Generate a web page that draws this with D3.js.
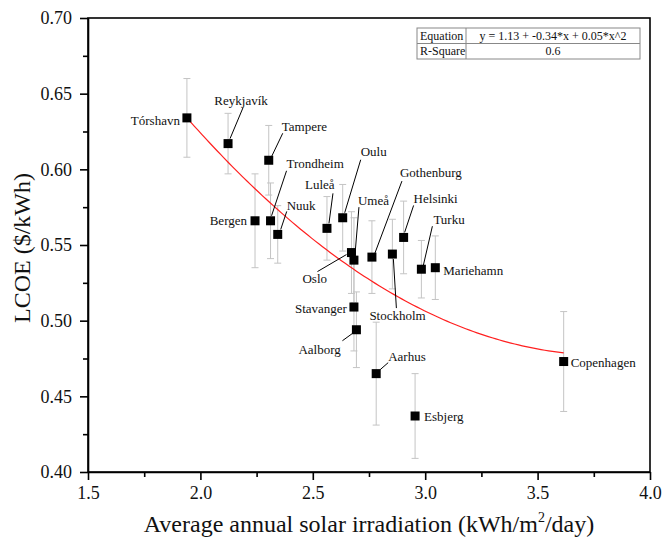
<!DOCTYPE html>
<html>
<head>
<meta charset="utf-8">
<script src="https://cdn.jsdelivr.net/npm/d3@7"></script>
<style>
  html, body { margin: 0; padding: 0; background: #fff; }
  svg, svg text { font-family: "Liberation Serif", "Times New Roman", serif !important; }
</style>
</head>
<body>
<svg id="chart" width="666" height="547"></svg>
<script>
// Cities and their average annual solar irradiation (kWh/m²/day)
const cities = ["Tórshavn", "Reykjavík", "Tampere", "Trondheim", "Bergen", "Nuuk",
  "Luleå", "Oulu", "Oslo", "Umeå", "Stavanger", "Aalborg", "Gothenburg", "Stockholm",
  "Helsinki", "Turku", "Mariehamn", "Aarhus", "Esbjerg", "Copenhagen"];
const irradiation = [1.940, 2.123, 2.304, 2.312, 2.243, 2.344,
  2.563, 2.633, 2.672, 2.683, 2.683, 2.694, 2.763, 2.854,
  2.904, 2.983, 3.045, 2.782, 2.955, 3.616];
// Levelized cost of energy ($/kWh) and its uncertainty (±)
const lcoe = [0.634, 0.617, 0.606, 0.566, 0.566, 0.557,
  0.561, 0.568, 0.545, 0.540, 0.509, 0.494, 0.542, 0.544,
  0.555, 0.534, 0.535, 0.465, 0.437, 0.473];
const lcoeErr = [0.026, 0.020, 0.023, 0.025, 0.031, 0.019,
  0.021, 0.022, 0.027, 0.028, 0.029, 0.025, 0.024, 0.023,
  0.024, 0.019, 0.021, 0.034, 0.028, 0.033];

// Quadratic fit y = a + b*x + c*x^2 and its goodness of fit
const fitCoefficients = [1.1309, -0.3438, 0.0452];
const rSquare = 0.6;

// Axis ticks
const xTicks = [1.5, 2.0, 2.5, 3.0, 3.5, 4.0];
const yTicks = [0.40, 0.45, 0.50, 0.55, 0.60, 0.65, 0.70];

// Label placement per city: [dx, dy, anchor, leader start dx, dy, leader end dx, dy]
const labelLayout = {
  "Tórshavn":   [-7, 3, "end"],
  "Reykjavík":  [13, -43, "middle", 15, -36, 2, -5],
  "Tampere":    [13, -34, "start", 14, -27, 3, -4],
  "Trondheim":  [16, -57, "start", 16, -50, 1, -5],
  "Bergen":     [-8, 0, "end"],
  "Nuuk":       [9, -29, "start", 9, -23, 3, -5],
  "Luleå":      [-22, -44, "start", 6, -35, 2, -5],
  "Oulu":       [18, -66, "start", 18, -58, 2, -5],
  "Oslo":       [-49, 26, "start", -34, 19, -5, 2],
  "Umeå":       [4, -60, "start", 5, -53, 1, -5],
  "Stavanger":  [-7, 1, "end"],
  "Aalborg":    [-58, 20, "start", -14, 11, -3, 3],
  "Gothenburg": [28, -85, "start", 30, -76, 3, -4],
  "Stockholm":  [-23, 61, "start", 1, 5, 4, 54],
  "Helsinki":   [10, -39, "start", 10, -32, 1, -5],
  "Turku":      [12, -50, "start", 11, -43, 2, -4],
  "Mariehamn":  [8, 3, "start"],
  "Aarhus":     [12, -17, "start", 12, -11, 4, -4],
  "Esbjerg":    [9, 0, "start"],
  "Copenhagen": [7, 1, "start"]
};

const serif = "'Liberation Serif', 'Times New Roman', serif";
const svg = d3.select("#chart").style("font-family", serif);
const plot = { left: 88, right: 650, top: 18, bottom: 472 };

const x = d3.scaleLinear().domain([1.5, 4.0]).range([plot.left, plot.right]);
const y = d3.scaleLinear().domain([0.40, 0.70]).range([plot.bottom, plot.top]);

const points = cities.map((name, i) => ({ name, x: irradiation[i], y: lcoe[i], e: lcoeErr[i] }));

// Frame around the plotting area
svg.append("rect")
  .attr("x", plot.left).attr("y", plot.top)
  .attr("width", plot.right - plot.left).attr("height", plot.bottom - plot.top)
  .attr("fill", "none").attr("stroke", "#000").attr("stroke-width", 1.6);

// Axes with major and minor ticks pointing outward
const xMinor = d3.range(1.75, 4.0, 0.5);
const yMinor = d3.range(0.425, 0.70, 0.05);

const xAxis = svg.append("g").attr("transform", `translate(0,${plot.bottom})`)
  .call(d3.axisBottom(x).tickValues(xTicks).tickFormat(d3.format(".1f")).tickSize(8).tickPadding(6).tickSizeOuter(0));
svg.append("g").attr("transform", `translate(0,${plot.bottom})`)
  .call(d3.axisBottom(x).tickValues(xMinor).tickFormat("").tickSize(5).tickSizeOuter(0))
  .select(".domain").remove();

const yAxis = svg.append("g").attr("transform", `translate(${plot.left},0)`)
  .call(d3.axisLeft(y).tickValues(yTicks).tickFormat(d3.format(".2f")).tickSize(8).tickSizeOuter(0));
svg.append("g").attr("transform", `translate(${plot.left},0)`)
  .call(d3.axisLeft(y).tickValues(yMinor).tickFormat("").tickSize(5).tickSizeOuter(0))
  .select(".domain").remove();

svg.selectAll("g").attr("font-family", serif);
svg.selectAll(".tick line").attr("stroke", "#000").attr("stroke-width", 1.6);
svg.selectAll(".domain").attr("stroke", "#000").attr("stroke-width", 1.6);
xAxis.selectAll(".tick text").attr("font-size", 18).attr("fill", "#111")
  .style("font-family", serif);
yAxis.selectAll(".tick text").attr("font-size", 18).attr("fill", "#111")
  .style("font-family", serif).attr("x", -16);

// Axis titles
const xTitle = svg.append("text")
  .attr("x", (plot.left + plot.right) / 2).attr("y", 532).attr("text-anchor", "middle")
  .attr("font-size", 24).attr("fill", "#111").style("font-family", serif);
xTitle.append("tspan").text("Average annual solar irradiation (kWh/m");
xTitle.append("tspan").attr("font-size", 14).attr("dy", -10).text("2");
xTitle.append("tspan").attr("dy", 10).text("/day)");

svg.append("text")
  .attr("transform", `translate(30,${(plot.top + plot.bottom) / 2 + 3}) rotate(-90)`)
  .attr("text-anchor", "middle").attr("font-size", 24).attr("fill", "#111")
  .style("font-family", serif)
  .text("LCOE ($/kWh)");

// Error bars
const capHalf = 3.5;
const eb = svg.append("g").attr("stroke", "#c4c4c4").attr("stroke-width", 1);
points.forEach(p => {
  const cx = x(p.x), y0 = y(p.y - p.e), y1 = y(p.y + p.e);
  eb.append("line").attr("x1", cx).attr("x2", cx).attr("y1", y0).attr("y2", y1);
  eb.append("line").attr("x1", cx - capHalf).attr("x2", cx + capHalf).attr("y1", y0).attr("y2", y0);
  eb.append("line").attr("x1", cx - capHalf).attr("x2", cx + capHalf).attr("y1", y1).attr("y2", y1);
});

// Fitted quadratic curve across the data range
const [xMin, xMax] = d3.extent(irradiation);
const [a, b, c] = fitCoefficients;
const curveX = d3.range(0, 101).map(k => xMin + (xMax - xMin) * k / 100);
svg.append("path")
  .datum(curveX)
  .attr("fill", "none").attr("stroke", "#ff2020").attr("stroke-width", 1.2)
  .attr("d", d3.line().x(v => x(v)).y(v => y(a + b * v + c * v * v)));

// Data markers
const size = 9;
svg.append("g").selectAll("rect").data(points).join("rect")
  .attr("x", p => x(p.x) - size / 2).attr("y", p => y(p.y) - size / 2)
  .attr("width", size).attr("height", size).attr("fill", "#000");

// City labels with leader lines
const lbl = svg.append("g");
points.forEach(p => {
  const L = labelLayout[p.name];
  const cx = x(p.x), cy = y(p.y);
  if (L.length > 3) {
    lbl.append("line")
      .attr("x1", cx + L[3]).attr("y1", cy + L[4])
      .attr("x2", cx + L[5]).attr("y2", cy + L[6])
      .attr("stroke", "#000").attr("stroke-width", 1);
  }
  lbl.append("text")
    .attr("x", cx + L[0]).attr("y", cy + L[1]).attr("dy", "0.35em")
    .attr("text-anchor", L[2]).attr("font-size", 13).attr("fill", "#111")
    .style("font-family", serif)
    .text(p.name);
});

// Fit summary table
const tbl = { x: 417, y: 28, w: 223, h: 31, split: 466 };
const tg = svg.append("g");
tg.append("rect").attr("x", tbl.x).attr("y", tbl.y).attr("width", tbl.w).attr("height", tbl.h)
  .attr("fill", "#fff").attr("stroke", "#888").attr("stroke-width", 1);
tg.append("line").attr("x1", tbl.x).attr("x2", tbl.x + tbl.w)
  .attr("y1", tbl.y + tbl.h / 2).attr("y2", tbl.y + tbl.h / 2).attr("stroke", "#888");
tg.append("line").attr("x1", tbl.split).attr("x2", tbl.split)
  .attr("y1", tbl.y).attr("y2", tbl.y + tbl.h).attr("stroke", "#888");
const f2 = v => d3.format(".2f")(v).replace("\u2212", "-");
const rows = [
  ["Equation", `y = ${f2(a)} + ${f2(b)}*x + ${f2(c)}*x^2`],
  ["R-Square", String(rSquare)]
];
rows.forEach((r, i) => {
  const cy = tbl.y + tbl.h / 4 + i * tbl.h / 2;
  tg.append("text").attr("x", tbl.x + 3).attr("y", cy).attr("dy", "0.35em")
    .attr("font-size", 12).attr("fill", "#111").style("font-family", serif).text(r[0]);
  tg.append("text").attr("x", (tbl.split + tbl.x + tbl.w) / 2).attr("y", cy).attr("dy", "0.35em")
    .attr("text-anchor", "middle").attr("font-size", 12).attr("fill", "#111")
    .style("font-family", serif).text(r[1]);
});
</script>
</body>
</html>
